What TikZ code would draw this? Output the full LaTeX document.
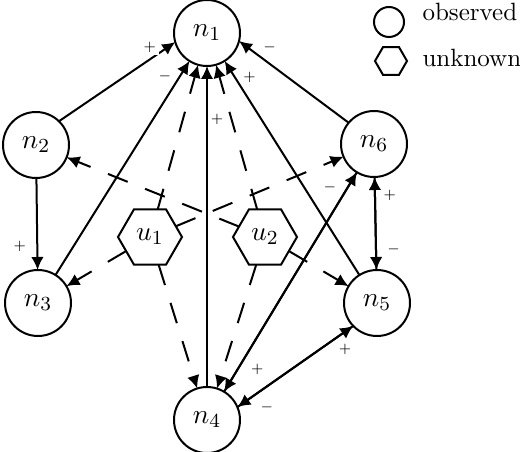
\documentclass[tikz,border=0pt]{standalone}
\usepackage{amsmath}
\usepackage{tkz-graph}
\usetikzlibrary{arrows.meta,shapes.geometric}
\tikzset{
  LabelStyle/.style = {text = black, font = \tiny, inner sep = 1pt},
  VertexStyle/.style = {circle, draw=black, thick, black, inner sep=1pt,
                                minimum size=26.4pt,
                                font = \fontsize{11pt}{13pt}\selectfont},
  EdgeStyle/.style = {black, thick, -{Latex[width=5pt,length=5.2pt]}},
  KeyStyle/.style = {draw=black, thick, inner sep=0pt},
  KeyTextStyle/.style = {anchor=base west, inner sep=0pt} }
\usepackage{tikz}

\begin{document}
\begin{tikzpicture}[x=0.4pt,y=-0.4pt]
  \useasboundingbox (0,0) rectangle (520,452);
  \Vertex[x=207,y=33,L=$n_1$]{n1}
  \Vertex[x=36,y=145,L=$n_2$]{n2}
  \Vertex[x=38,y=303,L=$n_3$]{n3}
  \Vertex[x=207,y=420,L=$n_4$]{n4}
  \Vertex[x=377,y=303,L=$n_5$]{n5}
  \Vertex[x=374,y=144,L=$n_6$]{n6}
  \tikzset{VertexStyle/.append style = {regular polygon, regular polygon sides=6,
                                minimum size=25.6pt, inner sep=0pt}}
  \Vertex[x=150,y=237,L=$u_1$]{u1}
  \Vertex[x=265,y=237,L=$u_2$]{u2}
  % key
  \node[KeyStyle, circle, minimum size=12pt] (kobs) at (389,22) {};
  \node[KeyStyle, regular polygon, regular polygon sides=6,
        minimum size=12.8pt] (kunk) at (391,61) {};
  \node[KeyTextStyle] (tobs) at (422,21) {observed};
  \node[KeyTextStyle] (tunk) at (422,67) {unknown};
  % signed edges
  \Edge[label = $+$, labelstyle = {pos=.78, above=1.5pt}](n2.46)(n1.196)
  \Edge[label = $-$, labelstyle = {pos=.72, above=3pt}](n6.140)(n1.346)
  \Edge[label = $-$, labelstyle = {pos=.93, left=2pt}](n3)(n1)
  \Edge[label = $+$, labelstyle = {pos=.835, right}](n4)(n1)
  \Edge[label = $+$, labelstyle = {pos=.925, right=2pt}](n5)(n1)
  \Edge[label = $+$, labelstyle = {pos=.745, left=3pt}](n2)(n3)
  \Edge[label = $-$, labelstyle = {pos=.93, left=3pt}](n4)(n6)
  \Edge[label = $+$, labelstyle = {pos=.9, right=4pt}](n6)(n4)
  \Edge[label = $+$, labelstyle = {pos=.93, below=3.5pt}](n4.23)(n5.224)
  \Edge[label = $-$, labelstyle = {pos=.745, below=5pt}](n5.224)(n4.23)
  \Edge[label = $+$, labelstyle = {pos=.8, right=2pt}](n5)(n6)
  \Edge[label = $-$, labelstyle = {pos=.78, right=3pt}](n6)(n5)
  % hidden causes
  \tikzset{EdgeStyle/.append style = {dash pattern=on 8.5pt off 7.5pt}}
  \Edge(u1)(n1)
  \Edge(u1)(n3)
  \Edge(u1)(n4)
  \Edge(u1)(n6)
  \Edge(u2)(n1)
  \Edge(u2)(n2)
  \Edge(u2)(n4)
  \Edge(u2)(n5)
\end{tikzpicture}
\end{document}
